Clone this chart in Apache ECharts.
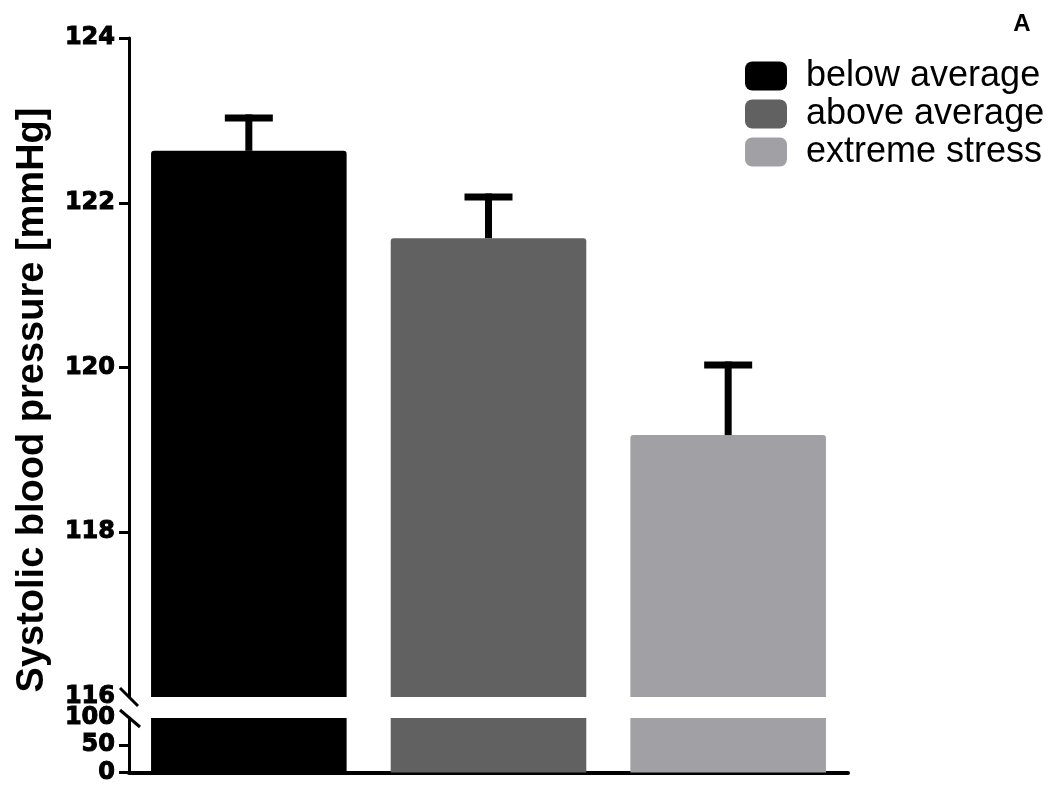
<!DOCTYPE html>
<html>
<head>
<meta charset="utf-8">
<script src="https://cdn.jsdelivr.net/npm/echarts@6/dist/echarts.min.js"></script>
<style>
  html, body { margin: 0; padding: 0; background: #fff; }
  #chart { width: 1056px; height: 785px; }
</style>
</head>
<body>
<div id="chart"></div>
<script>
// Stress groups and their mean systolic blood pressure (mmHg) with SEM
const categories = ['below average', 'above average', 'extreme stress'];
const means = [122.63, 121.57, 119.18];
const sem = [0.40, 0.50, 0.85];
const groupColors = ['#000000', '#616161', '#a1a1a5'];

// Broken value axis: upper segment 116–124, lower segment 0–100
const upperTicks = [116, 118, 120, 122, 124];
const lowerTicks = [0, 50, 100];

const axisTitle = 'Systolic blood pressure [mmHg]';
const panelLetter = 'A';

const chart = echarts.init(document.getElementById('chart'), null, { renderer: 'canvas' });

// Heavy bold tick numbers (thin outline thickens the strokes)
const tickFont = {
  fontFamily: 'DejaVu Sans', fontWeight: 'bold', fontSize: 24, color: '#000',
  textBorderColor: '#000', textBorderWidth: 1,
  showMinLabel: true, showMaxLabel: true, hideOverlap: false
};
const lineStyle = { color: '#000', width: 3 };

const grids = [
  { left: 129, right: 208, top: 38, bottom: 88 },   // upper segment
  { left: 129, right: 208, top: 718, bottom: 11 }   // lower segment
];

// One bar series per group so the legend lists each group
const barSeries = [];
categories.forEach((name, i) => {
  const data = categories.map((c, j) => (j === i ? means[i] : '-'));
  barSeries.push({
    type: 'bar', name, xAxisIndex: 0, yAxisIndex: 0,
    data, barGap: '-100%', barCategoryGap: '18.4%',
    itemStyle: { color: groupColors[i], borderRadius: [3, 3, 0, 0] },
    z: 2
  });
  barSeries.push({
    type: 'bar', name, xAxisIndex: 1, yAxisIndex: 1,
    data, barGap: '-100%', barCategoryGap: '18.4%',
    itemStyle: { color: groupColors[i] },
    clip: true, z: 2
  });
});

// Upward error bars (mean + SEM) with a flat cap
const errorSeries = {
  type: 'custom', xAxisIndex: 0, yAxisIndex: 0, z: 5, silent: true,
  data: categories.map((c, i) => [i, means[i], means[i] + sem[i]]),
  renderItem(params, api) {
    const base = api.coord([api.value(0), api.value(1)]);
    const top = api.coord([api.value(0), api.value(2)]);
    const half = 24;
    const style = { stroke: '#000', lineWidth: 7, lineCap: 'butt' };
    return {
      type: 'group',
      children: [
        { type: 'line', shape: { x1: base[0], y1: base[1], x2: top[0], y2: top[1] - 3.5 }, style },
        { type: 'line', shape: { x1: top[0] - half, y1: top[1], x2: top[0] + half, y2: top[1] }, style }
      ]
    };
  }
};

// Diagonal break marks where the axis is interrupted
function breakMark(gridIdx, value, dx1, dy1, dx2, dy2) {
  return {
    type: 'custom', xAxisIndex: gridIdx, yAxisIndex: gridIdx, z: 6, silent: true,
    data: [[0, value]],
    renderItem(params, api) {
      const x = params.coordSys.x;
      const y = api.coord([0, api.value(1)])[1];
      return {
        type: 'line',
        shape: { x1: x + dx1, y1: y + dy1, x2: x + dx2, y2: y + dy2 },
        style: { stroke: '#000', lineWidth: 3 }
      };
    }
  };
}

const option = {
  backgroundColor: '#fff',
  animation: false,
  grid: grids,
  legend: {
    data: categories,
    orient: 'vertical',
    left: 745, top: 58, padding: 0,
    icon: 'roundRect',
    itemWidth: 42, itemHeight: 29, itemGap: 2,
    textStyle: {
      fontFamily: 'Liberation Sans', fontSize: 36, color: '#000',
      lineHeight: 29, padding: [0, 0, 0, 14]
    },
    selectedMode: false
  },
  xAxis: [
    { type: 'category', gridIndex: 0, data: categories, show: false },
    {
      type: 'category', gridIndex: 1, data: categories,
      axisLine: { lineStyle: { color: '#000', width: 4 } },
      axisTick: { show: false }, axisLabel: { show: false }
    }
  ],
  yAxis: [
    {
      type: 'value', gridIndex: 0, min: upperTicks[0], max: upperTicks[upperTicks.length - 1], interval: 2,
      axisLine: { show: true, lineStyle },
      axisTick: { show: true, length: 10, lineStyle, customValues: upperTicks.slice(1) },
      axisLabel: { ...tickFont, margin: 14, customValues: upperTicks },
      splitLine: { show: false }
    },
    {
      type: 'value', gridIndex: 1, min: lowerTicks[0], max: lowerTicks[lowerTicks.length - 1], interval: 50,
      axisLine: { show: true, lineStyle },
      axisTick: { show: true, length: 10, lineStyle, customValues: lowerTicks.slice(0, -1) },
      axisLabel: { ...tickFont, margin: 14, customValues: lowerTicks },
      splitLine: { show: false }
    }
  ],
  graphic: [
    {
      type: 'text', x: 33, y: 400, rotation: Math.PI / 2,
      style: {
        text: axisTitle, fill: '#000',
        font: 'bold 38px "Liberation Sans"',
        align: 'center', verticalAlign: 'middle'
      }
    },
    {
      type: 'text', x: 1022, y: 24,
      style: {
        text: panelLetter, fill: '#000',
        font: 'bold 24px "Liberation Sans"',
        align: 'center', verticalAlign: 'middle'
      }
    }
  ],
  series: [
    ...barSeries,
    errorSeries,
    breakMark(0, upperTicks[0], -9, -9, 9, 9),
    breakMark(1, lowerTicks[lowerTicks.length - 1], -9, -8, 11, 9)
  ]
};

chart.setOption(option);
</script>
</body>
</html>
